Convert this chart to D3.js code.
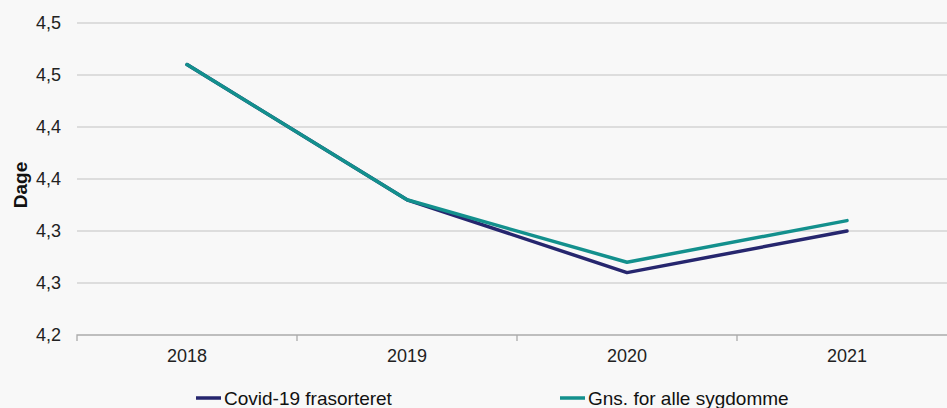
<!DOCTYPE html>
<html>
<head>
<meta charset="utf-8">
<script src="https://cdn.jsdelivr.net/npm/d3@7"></script>
<style>
  body { margin: 0; background: #f8f8f8; }
  text { font-family: "Liberation Sans", Arial, sans-serif; }
</style>
</head>
<body>
<div id="chart"></div>
<script>
var svgWidth = 947;
var svgHeight = 408;

// data
var years = ["2018", "2019", "2020", "2021"];
var covidValues = [4.46, 4.33, 4.26, 4.30];
var gnsValues = [4.46, 4.33, 4.27, 4.31];
var seriesNames = ["Covid-19 frasorteret", "Gns. for alle sygdomme"];
var yTicks = [4.20, 4.25, 4.30, 4.35, 4.40, 4.45, 4.50];

var margin = { top: 23, right: -10, bottom: 73, left: 77 };
var width = svgWidth - margin.left - margin.right;
var height = svgHeight - margin.top - margin.bottom;

var svg = d3.select("#chart")
  .append("svg")
  .attr("width", svgWidth)
  .attr("height", svgHeight)
  .style("background", "#f8f8f8");

var chartGroup = svg.append("g")
  .attr("transform", `translate(${margin.left}, ${margin.top})`);

// scales
var xScale = d3.scaleBand().domain(years).range([0, width]);
var yScale = d3.scaleLinear().domain([4.2, 4.5]).range([height, 0]);

// gridlines
chartGroup.selectAll(".grid")
  .data(yTicks.slice(1))
  .enter()
  .append("line")
  .attr("x1", 0)
  .attr("x2", width)
  .attr("y1", d => yScale(d))
  .attr("y2", d => yScale(d))
  .attr("stroke", "#d4d4d4")
  .attr("stroke-width", 1.3);

// y axis labels
var leftAxis = d3.axisLeft(yScale)
  .tickValues(yTicks)
  .tickSize(0)
  .tickPadding(16)
  .tickFormat(d => d3.format(".1f")(d + 1e-9).replace(".", ","));

var yAxisG = chartGroup.append("g").call(leftAxis);
yAxisG.select(".domain").remove();
yAxisG.selectAll("text").style("font-size", "18px").attr("fill", "#222");

// x axis
var bottomAxis = d3.axisBottom(xScale).tickSize(0).tickPadding(14);
var xAxisG = chartGroup.append("g")
  .attr("transform", `translate(0, ${height})`)
  .call(bottomAxis);
xAxisG.select(".domain").attr("stroke", "#aaaaaa").attr("stroke-width", 1.3)
  .attr("d", `M0,6V0H${width}`);
xAxisG.selectAll("text").style("font-size", "18px").attr("fill", "#222");

// tick marks between categories
chartGroup.selectAll(".xtick")
  .data(years.slice(1))
  .enter()
  .append("line")
  .attr("x1", d => xScale(d))
  .attr("x2", d => xScale(d))
  .attr("y1", height)
  .attr("y2", height + 6)
  .attr("stroke", "#aaaaaa")
  .attr("stroke-width", 1.3);

// lines
var colors = ["#26266e", "#13908d"];
var seriesData = [covidValues, gnsValues];

var line = d3.line()
  .x((d, i) => xScale(years[i]) + xScale.bandwidth() / 2)
  .y(d => yScale(d));

seriesData.forEach(function (values, k) {
  chartGroup.append("path")
    .datum(values)
    .attr("d", line)
    .attr("fill", "none")
    .attr("stroke", colors[k])
    .attr("stroke-width", 3.5)
    .attr("stroke-linejoin", "round")
    .attr("stroke-linecap", "round");
});

// y label
svg.append("text")
  .attr("transform", `translate(20, 185) rotate(-90)`)
  .attr("text-anchor", "middle")
  .attr("dy", "0.35em")
  .style("font-size", "19px")
  .style("font-weight", "bold")
  .attr("fill", "#111")
  .text("Dage");

// legend
var legendX = [196, 560];
seriesNames.forEach(function (name, k) {
  var g = svg.append("g").attr("transform", `translate(${legendX[k]}, 398)`);
  g.append("line")
    .attr("x1", 0).attr("x2", 25)
    .attr("stroke", colors[k])
    .attr("stroke-width", 3.5);
  g.append("text")
    .attr("x", 28)
    .attr("dy", "0.35em")
    .style("font-size", "19px")
    .attr("fill", "#111")
    .text(name);
});
</script>
</body>
</html>
